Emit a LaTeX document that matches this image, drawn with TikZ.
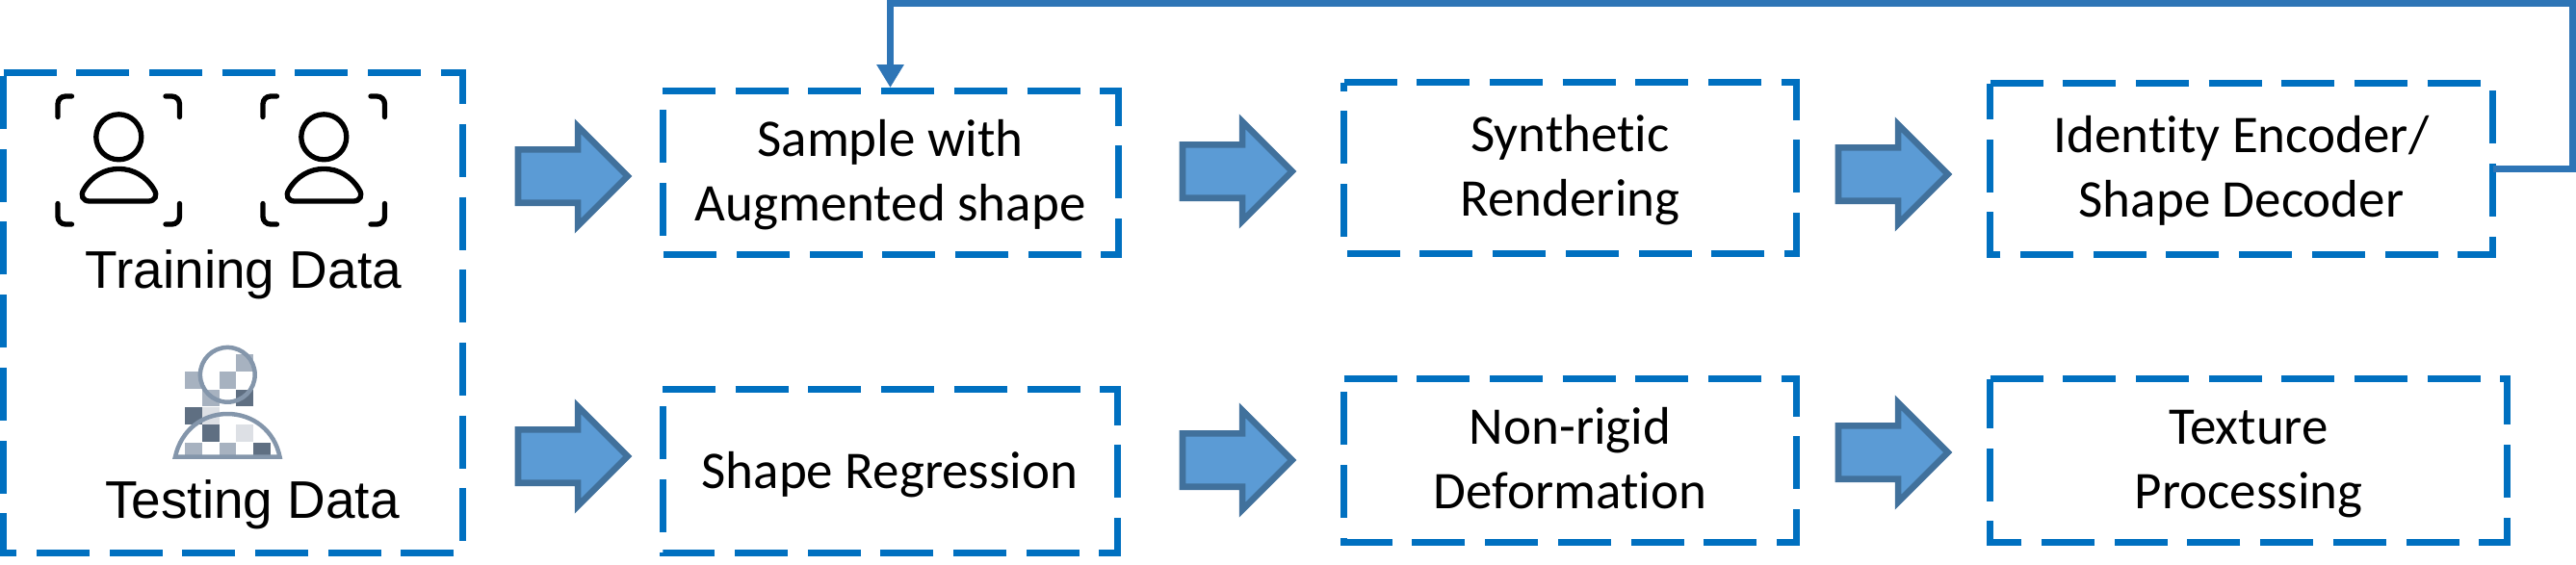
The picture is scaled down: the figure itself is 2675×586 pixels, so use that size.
\documentclass[tikz,border=0pt]{standalone}
\usepackage{fontspec}
\setmainfont[Ligatures=NoCommon]{Carlito}
\newfontfamily\arialfont{Liberation Sans}
\usetikzlibrary{arrows.meta, shapes.arrows}

\definecolor{boxblue}{HTML}{0070C0}
\definecolor{arrowfill}{HTML}{5B9BD5}
\definecolor{arrowline}{HTML}{41719C}
\definecolor{loopblue}{HTML}{2E75B6}
\definecolor{pixring}{HTML}{8496AB}
\definecolor{pixmid}{HTML}{A7B2C0}
\definecolor{pixdark}{HTML}{5F6F82}
\definecolor{pixlight}{HTML}{DDE0E5}

\newcommand{\steprule}{\rule[-7.5pt]{0pt}{33pt}}
\newcommand{\steptop}{\rule{0pt}{57pt}}

\begin{document}
\begin{tikzpicture}[x=0.5pt, y=-0.5pt]
        \tikzstyle{every node} = [font=\fontsize{27.5}{33.25}\selectfont, inner sep=0pt, outer sep=0pt]
        \tikzstyle{stepbox} = [align=center, minimum height=85pt,
            execute at begin node=\steprule,
            execute at end node=\steprule]
        \tikzstyle{steptwo} = [stepbox, execute at begin node=\steptop]
        \tikzstyle{boxline} = [draw=boxblue, line width=3.5pt, dash pattern=on 27.5pt off 10.35pt]
        \tikzstyle{blockarrow} = [single arrow, anchor=tail, draw=arrowline, fill=arrowfill, line width=3.3pt, minimum height=56.85pt, inner ysep=12.2pt, single arrow head extend=11.95pt]
        \tikzstyle{loopline} = [draw=loopblue, line width=3.25pt]
        \tikzstyle{facepen} = [draw=black, line width=2.65pt, line cap=round]
        \tikzstyle{datatext} = [font=\arialfont\fontsize{27.5}{33}\selectfont, anchor=base]

        \useasboundingbox (0,0) rectangle (2675,586);

        % boxes
        \node[minimum width=238.25pt, minimum height=249.5pt] (data) at (241.75,325) {};
        \node[steptwo, minimum width=236.5pt] (sample) at (924.5,179.5) {Sample with\\Augmented shape};
        \node[steptwo, minimum width=235pt, minimum height=89pt] (render) at (1630.5,174.5) {Synthetic\\Rendering};
        \node[steptwo, minimum width=261pt, minimum height=89pt] (encoder) at (2327.5,175.5) {Identity Encoder/\\Shape Decoder};
        \node[stepbox, minimum width=236pt] (regress) at (924,489.5) {Shape Regression};
        \node[steptwo, minimum width=235pt] (deform) at (1630.5,478.5) {Non-rigid\\Deformation};
        \node[steptwo, minimum width=268.5pt] (texture) at (2335,478.5) {Texture\\Processing};

        \foreach \b in {data,sample,render,encoder,regress,deform,texture}
            \draw[boxline] (\b.north west) -- (\b.north east) -- (\b.south east) -- (\b.south west) -- cycle;

        % block arrows
        \foreach \a/\ax/\ay in {ta/538/183,tb/1228/178,tc/1909/181,ba/538/474,bb/1228/478,bc/1909/470}
            \node[blockarrow] (\a) at (\ax,\ay) {};

        % loop back
        \coordinate (loopcorner) at (2671.7,3.3);
        \draw[loopline, -{Triangle[length=12pt, width=13.5pt]}, shorten >=1.75pt] (encoder.east) -| (loopcorner) -| (sample.north);

        % training icons
        \foreach \dx in {0,213} {
            \begin{scope}[shift={(\dx,0)}]
                \draw[facepen] (123.3,142.3) circle (23.5);
                \draw[facepen] (93,209) -- (154,209) .. controls (161,209) and (164,203) .. (160,197) .. controls (152,183) and (138,175.4) .. (123.3,175.4) .. controls (109,175.4) and (95,183) .. (87,197) .. controls (83,203) and (86,209) .. (93,209) -- cycle;
                \draw[facepen, rounded corners=4pt] (74.5,100) -- (60,100) -- (60,121.5);
                \draw[facepen, rounded corners=4pt] (172,100) -- (186.5,100) -- (186.5,121.5);
                \draw[facepen, rounded corners=4pt] (74.5,233) -- (60,233) -- (60,211.5);
                \draw[facepen, rounded corners=4pt] (172,233) -- (186.5,233) -- (186.5,211.5);
            \end{scope}
        }
        \node[datatext] (traintext) at (253,299.3) {Training Data};

        % testing icon
        \foreach \c/\r/\k in {3/0/pixmid,0/1/pixmid,2/1/pixmid,1/2/pixmid,3/2/pixdark,0/3/pixdark,1/3/pixlight,1/4/pixdark,3/4/pixlight,0/5/pixmid,2/5/pixmid,4/5/pixdark}
            \fill[\k] (192.3+17.7*\c,368+18.3*\r) rectangle ++(17.7,17.7);
        \draw[pixring, line width=2.25pt] (236.3,389.3) circle (28.4);
        \draw[pixring, line width=2.25pt] (182,474.5) .. controls (188,447) and (210,430) .. (236.3,430) .. controls (262,430) and (285,447) .. (290.5,474.5) -- cycle;
        \node[datatext] (testtext) at (262,538) {Testing Data};
    \end{tikzpicture}
\end{document}
